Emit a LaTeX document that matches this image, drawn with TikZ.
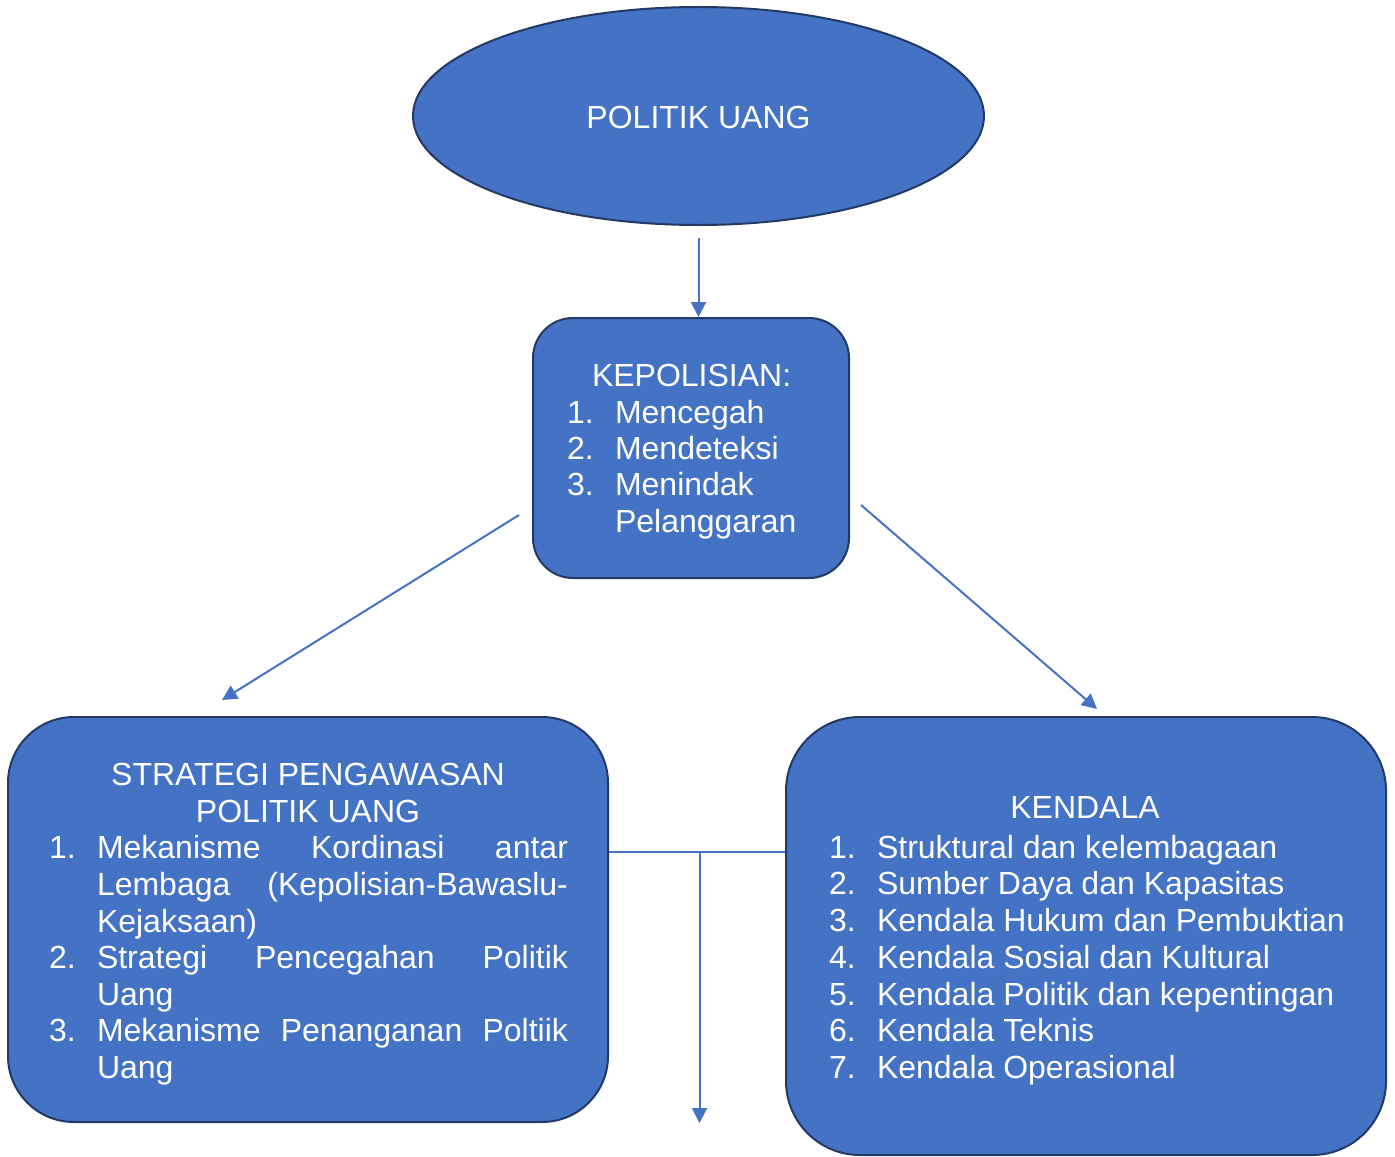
\documentclass[tikz,border=0pt]{standalone}
\usepackage{fontspec}
\setmainfont{Liberation Sans}
\usetikzlibrary{shapes.geometric,arrows.meta,calc}
\definecolor{boxfill}{HTML}{4472C4}
\definecolor{boxline}{HTML}{233A66}
\definecolor{arrowc}{HTML}{4472C4}
\begin{document}
\begin{tikzpicture}[x=0.5pt,y=-0.5pt,
  txt/.style={font=\fontsize{16}{18.4}\selectfont, text=white, inner sep=0pt, outer sep=0pt},
  shapebox/.style={draw=boxline, line width=1pt, fill=boxfill, inner sep=0pt},
  arr/.style={draw=arrowc, line width=1pt, -{Triangle[length=7.5pt,width=7.5pt]}},
  thinline/.style={draw=arrowc, line width=0.6pt}]
\useasboundingbox (0,0) rectangle (1395,1156);

% shapes
\node[shapebox, ellipse, minimum width=285.5pt, minimum height=109pt] (ell) at (698.5,116) {};
\node[shapebox, rectangle, rounded corners=20pt, minimum width=158pt, minimum height=130pt] (kep) at (691,448) {};
\node[shapebox, rectangle, rounded corners=33pt, minimum width=300pt, minimum height=202.5pt] (lbox) at (308,919.5) {};
\node[shapebox, rectangle, rounded corners=37pt, minimum width=300pt, minimum height=219pt] (rbox) at (1086,936) {};

% texts
\node[txt, anchor=base] (t0) at (698.5,128) {POLITIK UANG};

\node[txt, anchor=base west] (k0) at (592,386) {KEPOLISIAN:};
\foreach \n/\t/\y in {1/Mencegah/423, 2/Mendeteksi/459, 3/Menindak/495}{
  \node[txt, anchor=base west] (kn\n) at (567,\y) {\n.};
  \node[txt, anchor=base west] (kt\n) at (615,\y) {\t};
}
\node[txt, anchor=base west] (kt4) at (615,532) {Pelanggaran};

\node[txt, anchor=base] (s0) at (308,785) {STRATEGI PENGAWASAN};
\node[txt, anchor=base] (s1) at (308,822) {POLITIK UANG};
\node[txt, anchor=base west] (sn1) at (49,858) {1.};
\node[txt, anchor=base west] (sn2) at (49,968) {2.};
\node[txt, anchor=base west] (sn3) at (49,1041) {3.};
\node[txt, anchor=base west] (st1) at (97,858) {\makebox[235.5pt][s]{Mekanisme\hfill Kordinasi\hfill antar}};
\node[txt, anchor=base west] (st2) at (97,895) {\makebox[235.5pt][s]{Lembaga\hfill (Kepolisian-Bawaslu-}};
\node[txt, anchor=base west] (st3) at (97,932) {Kejaksaan)};
\node[txt, anchor=base west] (st4) at (97,968) {\makebox[235.5pt][s]{Strategi\hfill Pencegahan\hfill Politik}};
\node[txt, anchor=base west] (st5) at (97,1005) {Uang};
\node[txt, anchor=base west] (st6) at (97,1041) {\makebox[235.5pt][s]{Mekanisme\hfill Penanganan\hfill Poltiik}};
\node[txt, anchor=base west] (st7) at (97,1078) {Uang};

\node[txt, anchor=base] (r0) at (1085,818) {KENDALA};
\foreach \n/\t/\y in {1/Struktural dan kelembagaan/858, 2/Sumber Daya dan Kapasitas/894, 3/Kendala Hukum dan Pembuktian/931, 4/Kendala Sosial dan Kultural/968, 5/Kendala Politik dan kepentingan/1005, 6/Kendala Teknis/1041, 7/Kendala Operasional/1078}{
  \node[txt, anchor=base west] (rn\n) at (829,\y) {\n.};
  \node[txt, anchor=base west] (rt\n) at (877,\y) {\t};
}

% connectors
\coordinate (a1s) at ($(ell.south)+(0,12)$);
\draw[arr] (a1s) -- (ell.south |- kep.north);
\coordinate (a2s) at (519,515);
\coordinate (a2e) at (222,700);
\draw[arr] (a2s) -- (a2e);
\coordinate (a3s) at (861,505);
\coordinate (a3e) at (1097,709);
\draw[arr] (a3s) -- (a3e);
\coordinate (hy) at (0,852);
\draw[thinline] (lbox.east |- hy) -- (rbox.west |- hy);
\coordinate (vs) at (699.5,852);
\coordinate (ve) at (699.5,1123);
\draw[arr] (vs) -- (ve);
\end{tikzpicture}
\end{document}
